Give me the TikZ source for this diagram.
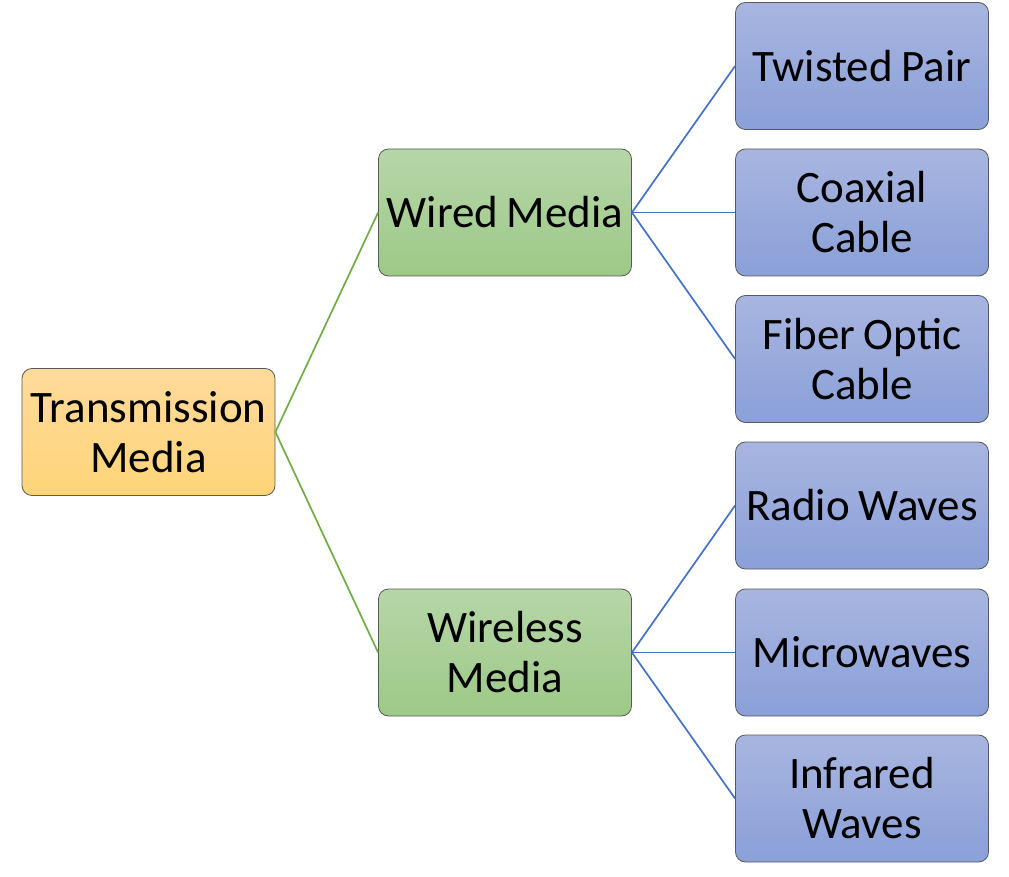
\documentclass[tikz,border=0pt]{standalone}
\usepackage{fontspec}
\setmainfont[WordSpace=0.85]{Carlito}
\begin{document}
\begin{tikzpicture}[x=1pt,y=-1pt,
  box/.style={draw=black!65, line width=0.8pt, rounded corners=10pt, minimum width=253pt, minimum height=127pt, inner sep=0pt, align=center, font=\fontsize{45}{50}\selectfont},
  orangebox/.style={box, top color=orangeT, bottom color=orangeB},
  greenbox/.style={box, top color=greenT, bottom color=greenB},
  bluebox/.style={box, top color=blueT, bottom color=blueB},
  gline/.style={draw=lgreen, line width=1.7pt},
  bline/.style={draw=lblue, line width=1.7pt}]
\definecolor{orangeT}{RGB}{255,219,155}
\definecolor{orangeB}{RGB}{255,212,120}
\definecolor{greenT}{RGB}{182,214,168}
\definecolor{greenB}{RGB}{157,201,135}
\definecolor{blueT}{RGB}{168,181,224}
\definecolor{blueB}{RGB}{138,160,216}
\definecolor{lgreen}{RGB}{112,173,71}
\definecolor{lblue}{RGB}{68,114,196}
\useasboundingbox (0,0) rectangle (1009,877);
\node[orangebox] (tm) at (148.5,432) {Transmission\\Media};
\node[greenbox] (wd) at (505,212.5) {Wired Media};
\node[greenbox] (wl) at (505,652.5) {Wireless\\Media};
\node[bluebox] (tp) at (862,66) {Twisted Pair};
\node[bluebox] (cc) at (862,212.5) {Coaxial\\Cable};
\node[bluebox] (fo) at (862,359) {Fiber Optic\\Cable};
\node[bluebox] (rw) at (862,505.5) {Radio Waves};
\node[bluebox] (mw) at (862,652.5) {Microwaves};
\node[bluebox] (iw) at (862,798.5) {Infrared\\Waves};
\draw[gline] (tm.east) -- (wd.west);
\draw[gline] (tm.east) -- (wl.west);
\draw[bline] (wd.east) -- (tp.west);
\draw[bline] (wd.east) -- (cc.west);
\draw[bline] (wd.east) -- (fo.west);
\draw[bline] (wl.east) -- (rw.west);
\draw[bline] (wl.east) -- (mw.west);
\draw[bline] (wl.east) -- (iw.west);
\end{tikzpicture}
\end{document}
